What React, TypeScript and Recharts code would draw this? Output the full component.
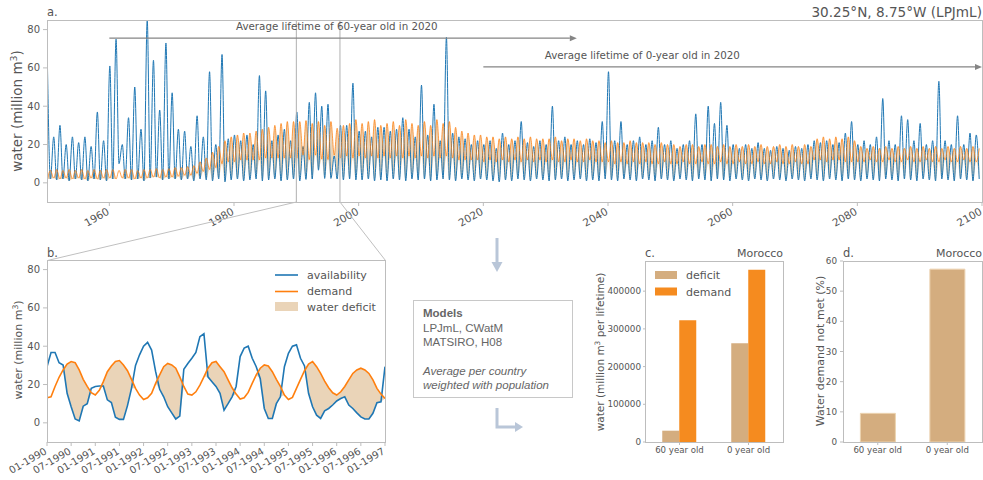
import React from 'react';
import { ComposedChart, Line, Area, XAxis, YAxis, ReferenceLine, BarChart, Bar } from 'recharts';

const FONT = '"DejaVu Sans", Verdana, sans-serif';
const SANS = '"Liberation Sans", Arial, sans-serif';
const TXT = '#555555';
const SPINE = '#bdbdbd';
const BLUE = '#1f77b4';
const ORANGE = '#ff7f0e';
const FILL = '#dcb888';
const TAN = '#d4ad7f';
const DEM = '#f58b1f';
const FLOW = '#b9c6d8';

// ---------------- Panel a: yearly peaks / troughs 1950..2099 ----------------
const yearStartA = 1950;
const availPeakA = [
  60, 24, 30, 20, 24, 21, 24, 19, 37, 22,
  61, 75, 20, 34, 50, 28, 85, 64, 38, 73,
  47, 28, 27, 19, 35, 24, 58, 20, 67, 23,
  25, 22, 25, 20, 56, 48, 22, 25, 28, 22,
  37, 19, 42, 47, 40, 41, 14, 30, 30, 52,
  27, 27, 24, 29, 29, 27, 28, 34, 28, 24,
  51, 25, 41, 22, 76, 26, 24, 23, 20, 22,
  20, 22, 18, 26, 20, 22, 32, 21, 19, 22,
  20, 40, 22, 24, 20, 22, 20, 23, 21, 32,
  58, 22, 32, 20, 22, 24, 20, 22, 29, 20,
  22, 18, 20, 22, 36, 20, 40, 31, 42, 30,
  20, 18, 20, 18, 21, 18, 17, 19, 18, 17,
  19, 18, 20, 22, 21, 22, 20, 21, 26, 32,
  20, 22, 20, 24, 44, 22, 20, 35, 33, 22,
  31, 20, 22, 53, 22, 20, 35, 20, 26, 25,
];
const availLowA = [
  2, 1.5, 2, 1, 2, 1.5, 1, 2, 1.5, 1,
  2, 10, 2, 1.5, 2, 1, 2.5, 3, 1.5, 2,
  2, 1.5, 2, 1, 2, 1.5, 1, 2, 0.5, 1.5,
  2, 1, 1.5, 2, 1, 1.5, 2, 1, 1.5, 2,
  1, 1.8, 2, 6.6, 2.3, 2.3, 2, 1.5, 2, 1.5,
  1.5, 2, 1, 1.5, 1, 2, 1.5, 1, 2, 1.5,
  2, 1, 1.5, 2, 1.5, 1, 2, 1.5, 1, 2,
  1.5, 1, 0.5, 1.5, 1, 2, 1.5, 1, 2, 1.5,
  1, 1.5, 2, 1, 1.5, 2, 1, 1.5, 1, 2,
  1.5, 1, 2, 1.5, 1, 2, 1.5, 1, 2, 1.5,
  1, 2, 1.5, 1, 2, 1.5, 1, 2, 1.5, 1,
  2, 1.5, 1, 2, 1.5, 1, 2, 1.5, 1, 2,
  1.5, 1, 2, 1.5, 1, 2, 1.5, 1, 2, 1.5,
  1, 2, 1.5, 1, 2, 1.5, 1, 2, 1.5, 1,
  2, 1.5, 1, 2, 1.5, 1, 2, 1.5, 1, 2,
];
const demandPeakA = [
  6.5, 7, 6.5, 7, 6.5, 7, 6.5, 7, 6.5, 7,
  7, 6.5, 7, 7, 6.5, 7, 7, 7.5, 7, 7.5,
  8, 8, 8.5, 9, 11, 13, 16, 19, 22, 24,
  25, 26, 26, 27, 28, 29, 30, 31, 32, 32,
  32, 32.5, 31, 32, 30, 32, 28.5, 30, 31, 33,
  31, 32, 33, 30, 31, 32, 30, 33, 31, 30,
  32, 30, 33, 31, 32, 29, 27, 26, 25, 25,
  24, 24, 23, 24, 23, 24, 23, 24, 23, 23,
  23, 24, 22, 23, 23, 22, 23, 22, 22, 21,
  22, 21, 21, 22, 21, 21, 21, 20, 21, 20,
  20, 19, 20, 20, 19, 20, 20, 19, 20, 19,
  20, 19, 20, 19, 20, 19, 19, 20, 19, 20,
  19, 20, 19, 23, 24, 23, 24, 23, 24, 22,
  19, 18, 19, 18, 19, 18, 19, 18, 19, 18,
  19, 18, 19, 18, 19, 18, 19, 18, 19, 18,
];
const demandLowA = [
  2, 2.5, 2, 2.5, 2, 2.5, 2, 2.5, 2, 2.5,
  2.5, 2, 2.5, 2.5, 2, 2.5, 2.5, 3, 2.5, 3,
  3, 3.5, 4, 4, 5, 6, 7, 8, 10, 11,
  11, 12, 12, 12, 12, 13, 13, 13, 13, 13,
  13, 14.5, 12.2, 14.5, 12.4, 12.2, 14.5, 13, 14, 13,
  14, 13, 14, 13, 14, 13, 14, 13, 14, 13,
  14, 13, 14, 13, 14, 13, 12, 12, 12, 12,
  11, 12, 11, 12, 11, 12, 11, 12, 11, 12,
  11, 12, 11, 11, 12, 11, 11, 12, 11, 11,
  11, 10, 11, 10, 11, 10, 11, 10, 10, 11,
  10, 10, 11, 10, 10, 11, 10, 10, 11, 10,
  10, 11, 10, 10, 11, 10, 10, 11, 10, 10,
  11, 10, 10, 12, 12, 11, 12, 12, 11, 11,
  11, 11, 12, 11, 11, 12, 11, 11, 12, 11,
  11, 12, 11, 11, 12, 11, 11, 12, 11, 11,
];
const yearTicksA = [1960, 1980, 2000, 2020, 2040, 2060, 2080, 2100];
const waterTicks = [0, 20, 40, 60, 80];
const zoomWindow = [1990, 1997];
const lifetimeArrows = [
  { label: 'Average lifetime of 60-year old in 2020', from: 1960, to: 2035, level: 75.5, textAt: 1996.5 },
  { label: 'Average lifetime of 0-year old in 2020', from: 2020, to: 2100, level: 60.5, textAt: 2045.5 },
];

// ---------------- Panel b: monthly 01-1990 .. 01-1997 ----------------
const availB = [
  29.3, 36.7, 36.7, 31.4, 30.2, 15.4, 8.4, 2, 1, 8.7,
  10, 18, 19, 19.2, 19.2, 12, 10.6, 3, 1.8, 1.8,
  9, 18, 30, 35.5, 40, 42, 38, 26.7, 17.5, 13.6,
  8.4, 5.2, 2, 3.5, 28, 31, 33.7, 36.7, 45, 46.5,
  24, 21.5, 19, 15.4, 6.6, 10, 13.6, 19, 34.6, 39,
  40, 33.7, 29.3, 23, 7.5, 2.3, 2.3, 10, 13.6, 29.3,
  36.3, 40, 40.7, 33.7, 29.7, 15.4, 8.4, 4, 2.3, 6.3,
  7.5, 9.3, 11.4, 12.7, 13.6, 9.3, 7.5, 5.2, 3.1, 2,
  2, 5, 10.5, 11, 29.3,
];
const demandB = [
  13.1, 13.6, 19, 23.8, 27.6, 30.7, 32, 31.4, 27.6, 22.7,
  19, 15.7, 14.5, 17, 21.5, 26.7, 29.7, 32, 32.5, 30.2,
  27.2, 22.7, 18, 14.5, 12.2, 13.1, 15.4, 20.6, 25, 29.3,
  31, 30.2, 28.5, 24, 19, 15, 14.5, 16.2, 19.7, 24,
  28.5, 31.4, 32, 29.3, 26.7, 22.4, 18.3, 15, 12.4, 13.1,
  15.9, 20.6, 25, 28.5, 30.2, 29.7, 26.7, 22.7, 19, 14.5,
  12.2, 13.3, 18, 22.7, 27.2, 30.7, 32, 29.3, 25.8, 21.8,
  18.3, 15.7, 14.5, 16.2, 19, 22.4, 25.8, 27.6, 28.5, 27.6,
  25.8, 22.4, 18, 15, 12.7,
];
const monthTickLabelsB = [
  '01-1990', '07-1990', '01-1991', '07-1991', '01-1992', '07-1992', '01-1993', '07-1993',
  '01-1994', '07-1994', '01-1995', '07-1995', '01-1996', '07-1996', '01-1997',
];
const seriesB = [
  { name: 'availability', color: BLUE, kind: 'line' },
  { name: 'demand', color: ORANGE, kind: 'line' },
  { name: 'water deficit', color: FILL, kind: 'patch' },
];

// ---------------- Panels c, d: Morocco ----------------
const ageGroups = ['60 year old', '0 year old'];
const deficitC = [30000, 262000];
const demandC = [323000, 457000];
const yTicksC = [0, 100000, 200000, 300000, 400000];
const seriesC = [
  { key: 'deficit', name: 'deficit', color: TAN },
  { key: 'demand', name: 'demand', color: DEM },
];
const notMetD = [9.5, 57.3];
const yTicksD = [0, 10, 20, 30, 40, 50, 60];

// ---------------- build tables ----------------
const dataA = availPeakA.flatMap((p, i) => {
  const yr = yearStartA + i;
  return [
    { t: yr + 0.08, avail: p, demand: demandLowA[i] },
    { t: yr + 0.55, avail: availLowA[i], demand: demandPeakA[i] },
  ];
});
const dataB = availB.map((a, i) => ({ m: i, avail: a, demand: demandB[i] }));
const monthTicksB = monthTickLabelsB.map((_, i) => i * 6);
const dataC = ageGroups.map((g, i) => ({ group: g, deficit: deficitC[i], demand: demandC[i] }));
const dataD = ageGroups.map((g, i) => ({ group: g, notMet: notMetD[i] }));
const deficitRange = (d: any) => [Math.min(d.avail, d.demand), d.demand];

// ---------------- helpers ----------------
const RotTick = (props: any) => {
  const { x, y, payload, fontSize = 10, fmt } = props;
  const label = fmt ? fmt(payload.value) : String(payload.value);
  const ax = x - 3;
  return (
    <text x={ax} y={y} dy="0.72em" transform={`rotate(-30, ${ax}, ${y})`} textAnchor="end"
      fontSize={fontSize} fill={TXT} fontFamily={FONT}>{label}</text>
  );
};

const ArrowShape = (p: any) => {
  const { x1, y1, x2, y2, text, frac } = p;
  const tx = x1 + (x2 - x1) * frac;
  const head = 7;
  return (
    <g>
      <line x1={x1} y1={y1} x2={x2 - head} y2={y2} stroke="#858585" strokeWidth={1.3} />
      <polygon points={`${x2},${y2} ${x2 - head},${y2 - 3} ${x2 - head},${y2 + 3}`} fill="#858585" />
      <text x={tx} y={y1 - 8} textAnchor="middle" fontSize={10.3} fill={TXT} fontFamily={FONT}>{text}</text>
    </g>
  );
};

const WaterLabel = ({ x, y, size, suffix = '' }: any) => (
  <text transform={`translate(${x},${y}) rotate(-90)`} textAnchor="middle" fontSize={size} fill={TXT} fontFamily={FONT}>
    water (million m<tspan dy={-size * 0.4} fontSize={size * 0.7}>3</tspan>
    <tspan dy={size * 0.4}>{suffix})</tspan>
  </text>
);

const yTick = { fontSize: 10, fill: TXT, fontFamily: FONT };
const smallTick = { fontSize: 8.8, fill: TXT, fontFamily: FONT };

function PanelA() {
  return (
    <ComposedChart width={983} height={240} data={dataA} margin={{ top: 20, right: 1, bottom: 0, left: 0 }}>
      <XAxis dataKey="t" type="number" domain={[1950, 2100]} ticks={yearTicksA} interval={0} allowDataOverflow
        height={38} axisLine={false} tickLine={{ stroke: SPINE }} tickSize={4} tickMargin={1}
        tick={<RotTick fontSize={10.5} />} />
      <YAxis type="number" domain={[-10, 85]} ticks={waterTicks} interval={0} allowDataOverflow width={47}
        axisLine={false} tickLine={{ stroke: SPINE }} tickSize={4} tickMargin={3} tick={yTick} />
      <Area type="monotone" dataKey={deficitRange} stroke="none" fill={FILL} fillOpacity={0.6}
        isAnimationActive={false} dot={false} activeDot={false} />
      <Line type="monotone" dataKey="avail" stroke={BLUE} strokeWidth={1} dot={false} activeDot={false} isAnimationActive={false} />
      <Line type="monotone" dataKey="demand" stroke={ORANGE} strokeOpacity={0.75} strokeWidth={1} dot={false} activeDot={false} isAnimationActive={false} />
      {zoomWindow.map((x) => <ReferenceLine key={x} x={x} stroke="#b0b0b0" strokeWidth={1} />)}
      {lifetimeArrows.map((a) => (
        <ReferenceLine key={a.label} segment={[{ x: a.from, y: a.level }, { x: a.to, y: a.level }]}
          stroke="#858585"
          shape={(p: any) => <ArrowShape {...p} text={a.label} frac={(a.textAt - a.from) / (a.to - a.from)} />} />
      ))}
    </ComposedChart>
  );
}

function PanelB() {
  return (
    <ComposedChart width={390} height={240} data={dataB} margin={{ top: 20, right: 5, bottom: 0, left: 0 }}>
      <XAxis dataKey="m" type="number" domain={[0, 84]} ticks={monthTicksB} interval={0} allowDataOverflow
        height={38} axisLine={false} tickLine={{ stroke: SPINE }} tickSize={4} tickMargin={1}
        tick={<RotTick fontSize={10} fmt={(v: number) => monthTickLabelsB[v / 6]} />} />
      <YAxis type="number" domain={[-10, 85]} ticks={waterTicks} interval={0} allowDataOverflow width={47}
        axisLine={false} tickLine={{ stroke: SPINE }} tickSize={4} tickMargin={3} tick={yTick} />
      <Area type="linear" dataKey={deficitRange} stroke="none" fill={FILL} fillOpacity={0.6}
        isAnimationActive={false} dot={false} activeDot={false} />
      <Line type="linear" dataKey="avail" stroke={BLUE} strokeWidth={1.6} dot={false} activeDot={false} isAnimationActive={false} />
      <Line type="linear" dataKey="demand" stroke={ORANGE} strokeWidth={1.6} dot={false} activeDot={false} isAnimationActive={false} />
    </ComposedChart>
  );
}

function PanelC() {
  return (
    <BarChart width={198} height={240} data={dataC} margin={{ top: 21, right: 5, bottom: 0, left: 0 }}
      barCategoryGap="25%" barGap={0}>
      <XAxis dataKey="group" height={38} axisLine={false} tickLine={{ stroke: SPINE }} tickSize={3} tick={{ ...smallTick, fontSize: 8.6 }} />
      <YAxis type="number" domain={[0, 480000]} ticks={yTicksC} interval={0} allowDataOverflow width={55}
        axisLine={false} tickLine={{ stroke: SPINE }} tickSize={2} tickMargin={2} tick={smallTick} />
      {seriesC.map((s) => (
        <Bar key={s.key} dataKey={s.key} fill={s.color} isAnimationActive={false} />
      ))}
    </BarChart>
  );
}

function PanelD() {
  return (
    <BarChart width={193} height={240} data={dataD} margin={{ top: 21, right: 1, bottom: 0, left: 0 }}
      barCategoryGap="25%" barGap={0}>
      <XAxis dataKey="group" height={38} axisLine={false} tickLine={{ stroke: SPINE }} tickSize={3} tick={{ ...smallTick, fontSize: 8.6 }} />
      <YAxis type="number" domain={[0, 60]} ticks={yTicksD} interval={0} allowDataOverflow width={53}
        axisLine={false} tickLine={{ stroke: SPINE }} tickSize={3} tickMargin={3} tick={smallTick} />
      <Bar dataKey="notMet" fill={TAN} stroke="#ecd3b0" strokeWidth={1} isAnimationActive={false} />
    </BarChart>
  );
}

const xA = (yr: number) => 47 + ((yr - 1950) / 150) * 935;

function Overlay() {
  const t = { fontFamily: FONT, fill: TXT };
  return (
    <svg width={983} height={480} style={{ position: 'absolute', left: 0, top: 0, pointerEvents: 'none' }}>
      {/* spines */}
      <rect x={47.5} y={20.5} width={935} height={182} fill="none" stroke={SPINE} />
      <rect x={47.5} y={260.5} width={338} height={182} fill="none" stroke={SPINE} />
      <rect x={645.5} y={261.5} width={138} height={181} fill="none" stroke={SPINE} />
      <rect x={843.5} y={261.5} width={139} height={181} fill="none" stroke={SPINE} />
      {/* zoom connectors */}
      <line x1={xA(zoomWindow[0])} y1={202} x2={47.5} y2={260.5} stroke="#c0c0c0" />
      <line x1={xA(zoomWindow[1])} y1={202} x2={385.5} y2={260.5} stroke="#c0c0c0" />
      {/* titles */}
      <text x={47} y={16} fontSize={11.5} {...t}>a.</text>
      <text x={982} y={17} fontSize={13.6} textAnchor="end" {...t}>30.25°N, 8.75°W (LPJmL)</text>
      <text x={47} y={257} fontSize={11.5} {...t}>b.</text>
      <text x={645} y={257} fontSize={11.5} {...t}>c.</text>
      <text x={783} y={257} fontSize={11} textAnchor="end" {...t}>Morocco</text>
      <text x={843} y={257} fontSize={11.5} {...t}>d.</text>
      <text x={982} y={257} fontSize={11} textAnchor="end" {...t}>Morocco</text>
      {/* axis labels */}
      <WaterLabel x={22} y={111} size={13.5} />
      <WaterLabel x={22} y={350} size={11} />
      <WaterLabel x={604} y={352} size={10.5} suffix=" per lifetime" />
      <text transform="translate(824,351) rotate(-90)" textAnchor="middle" fontSize={11} {...t}>Water demand not met (%)</text>
      {/* legend b */}
      {seriesB.map((s, i) => (
        <g key={s.name}>
          {s.kind === 'line'
            ? <line x1={275} x2={298} y1={275 + i * 16.5} y2={275 + i * 16.5} stroke={s.color} strokeWidth={1.6} />
            : <rect x={275} y={302} width={23} height={9} fill={s.color} fillOpacity={0.6} />}
          <text x={307} y={279 + i * 16} fontSize={11} {...t}>{s.name}</text>
        </g>
      ))}
      {/* legend c */}
      {seriesC.map((s, i) => (
        <g key={s.key}>
          <rect x={655} y={271 + i * 16.5} width={22} height={8} fill={s.color} />
          <text x={686} y={279 + i * 16.5} fontSize={11} {...t}>{s.name}</text>
        </g>
      ))}
      {/* flow arrows */}
      <line x1={497} y1={238} x2={497} y2={263} stroke={FLOW} strokeWidth={3} />
      <polygon points="491.5,262 502.5,262 497,272" fill={FLOW} />
      <polyline points="497,408 497,427 515,427" fill="none" stroke={FLOW} strokeWidth={3} />
      <polygon points="515,422 515,432 523,427" fill={FLOW} />
      {/* models box */}
      <rect x={413.5} y={300.5} width={159} height={97} fill="#ffffff" stroke="#c8c8c8" />
      <g fontFamily={SANS} fontSize={11.5} fill="#666666">
        <text x={423} y={317} fontWeight="bold">Models</text>
        <text x={423} y={332}>LPJmL, CWatM</text>
        <text x={423} y={346}>MATSIRO, H08</text>
        <text x={423} y={375} fontStyle="italic">Average per country</text>
        <text x={423} y={389} fontStyle="italic">weighted with population</text>
      </g>
    </svg>
  );
}

export default function App() {
  return (
    <div style={{ position: 'absolute', left: 0, top: 0, width: 983, height: 480, background: '#ffffff' }}>
      <div style={{ position: 'absolute', left: 0, top: 0 }}><PanelA /></div>
      <div style={{ position: 'absolute', left: 0, top: 240 }}><PanelB /></div>
      <div style={{ position: 'absolute', left: 590, top: 240 }}><PanelC /></div>
      <div style={{ position: 'absolute', left: 790, top: 240 }}><PanelD /></div>
      <Overlay />
    </div>
  );
}
